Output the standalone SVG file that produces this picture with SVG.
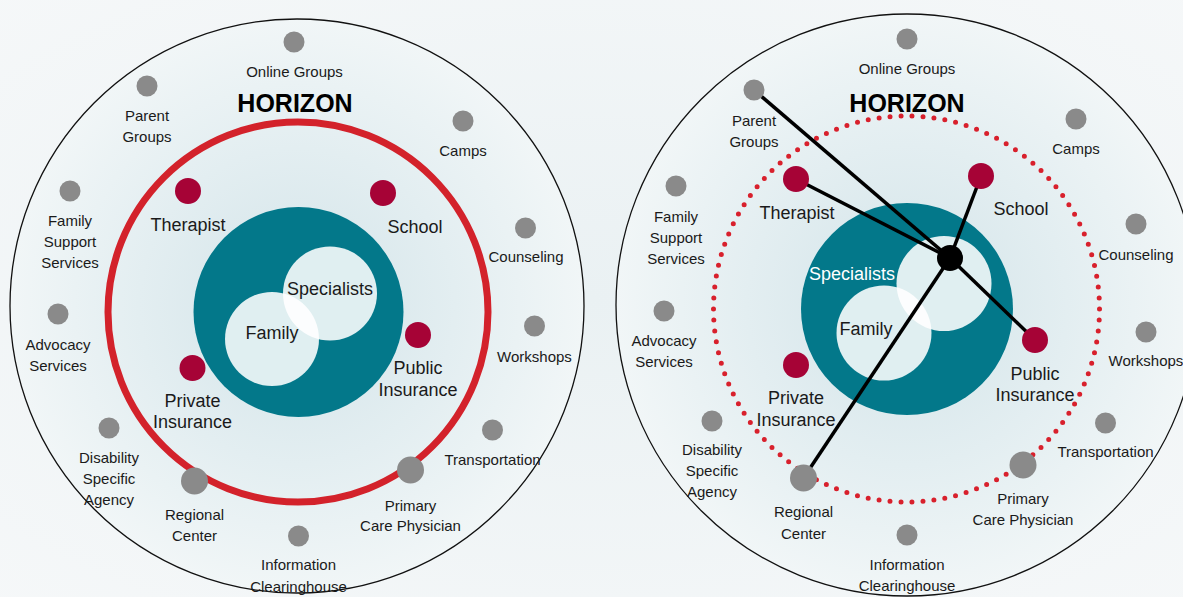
<svg xmlns="http://www.w3.org/2000/svg" width="1183" height="597" viewBox="0 0 1183 597">
<defs>
<radialGradient id="bgGrad" cx="0.5" cy="0.5" r="0.5">
<stop offset="0" stop-color="#d3e4e9"/>
<stop offset="0.55" stop-color="#e3eef1"/>
<stop offset="1" stop-color="#f1f6f7"/>
</radialGradient>
<radialGradient id="pageGrad" cx="0.5" cy="0.5" r="0.75">
<stop offset="0" stop-color="#eaf1f3"/>
<stop offset="1" stop-color="#f6f8f9"/>
</radialGradient>
</defs>
<style>
.outer{fill:url(#bgGrad);stroke:#111;stroke-width:1.3}
.teal{fill:#03788a}
.white{fill:#ffffff;fill-opacity:0.88}
.gray{fill:#8a8a8a}
.red{fill:#a60336}
.hub{fill:#000}
.lbl{font-family:"Liberation Sans",Arial,sans-serif;font-size:15px;fill:#1a1a1a;text-anchor:middle}
.big{font-family:"Liberation Sans",Arial,sans-serif;font-size:18px;fill:#1a1a1a;text-anchor:middle}
.bigw{font-family:"Liberation Sans",Arial,sans-serif;font-size:18px;fill:#ffffff;text-anchor:middle}
.title{font-family:"Liberation Sans",Arial,sans-serif;font-size:25px;font-weight:bold;fill:#000;text-anchor:middle}
.ring{fill:none;stroke:#d3222b;stroke-width:7}
.dotring{fill:none;stroke:#d8202c;stroke-width:5;stroke-linecap:round;stroke-dasharray:0 11.02}
.conn{stroke:#000;stroke-width:3.5;fill:none}
</style>
<rect width="1183" height="597" fill="url(#pageGrad)"/>

<!-- LEFT DIAGRAM -->
<g id="left-diagram">
<circle class="outer" cx="297" cy="306" r="287"/>
<text class="title" x="295" y="112">HORIZON</text>
<circle class="ring" cx="298" cy="312" r="190"/>
<g id="L-core">
<circle class="teal" cx="298.5" cy="312" r="105"/>
<circle class="white" cx="330" cy="293.5" r="47"/>
<circle class="white" cx="272" cy="339" r="47"/>
<text class="big" x="330" y="295">Specialists</text>
<text class="big" x="272" y="339">Family</text>
</g>
<g id="L-therapist"><circle class="red" cx="188" cy="191" r="13"/><text class="big" x="188" y="231">Therapist</text></g>
<g id="L-school"><circle class="red" cx="383" cy="193" r="13"/><text class="big" x="415" y="233">School</text></g>
<g id="L-public"><circle class="red" cx="418" cy="335" r="13"/><text class="big" x="418" y="374">Public</text><text class="big" x="418" y="396">Insurance</text></g>
<g id="L-private"><circle class="red" cx="192.5" cy="368" r="13"/><text class="big" x="192.5" y="407">Private</text><text class="big" x="192.5" y="428">Insurance</text></g>
<g id="L-online"><circle class="gray" cx="294" cy="42" r="10.5"/><text class="lbl" x="294.5" y="77">Online Groups</text></g>
<g id="L-parent"><circle class="gray" cx="147" cy="86" r="10.5"/><text class="lbl" x="147" y="121">Parent</text><text class="lbl" x="147" y="142">Groups</text></g>
<g id="L-camps"><circle class="gray" cx="463" cy="121" r="10.5"/><text class="lbl" x="463" y="156">Camps</text></g>
<g id="L-family-support"><circle class="gray" cx="70" cy="191" r="10.5"/><text class="lbl" x="70" y="226">Family</text><text class="lbl" x="70" y="247">Support</text><text class="lbl" x="70" y="268">Services</text></g>
<g id="L-counseling"><circle class="gray" cx="525.5" cy="228" r="10.5"/><text class="lbl" x="526" y="262">Counseling</text></g>
<g id="L-advocacy"><circle class="gray" cx="58" cy="314" r="10.5"/><text class="lbl" x="58" y="350">Advocacy</text><text class="lbl" x="58" y="371">Services</text></g>
<g id="L-workshops"><circle class="gray" cx="534.5" cy="326" r="10.5"/><text class="lbl" x="534.5" y="362">Workshops</text></g>
<g id="L-disability"><circle class="gray" cx="109" cy="428" r="10.5"/><text class="lbl" x="109" y="463">Disability</text><text class="lbl" x="109" y="484">Specific</text><text class="lbl" x="109" y="505">Agency</text></g>
<g id="L-transportation"><circle class="gray" cx="492.5" cy="430" r="10.5"/><text class="lbl" x="492.5" y="465">Transportation</text></g>
<g id="L-regional"><circle class="gray" cx="194.5" cy="481" r="13.5"/><text class="lbl" x="194.5" y="520">Regional</text><text class="lbl" x="194.5" y="541">Center</text></g>
<g id="L-primary"><circle class="gray" cx="410.5" cy="470" r="13.5"/><text class="lbl" x="410.5" y="511">Primary</text><text class="lbl" x="410.5" y="531">Care Physician</text></g>
<g id="L-info"><circle class="gray" cx="298.5" cy="536" r="10.5"/><text class="lbl" x="298.5" y="570">Information</text><text class="lbl" x="298.5" y="592">Clearinghouse</text></g>
</g>

<!-- RIGHT DIAGRAM -->
<g id="right-diagram">
<circle class="outer" cx="907" cy="305" r="291"/>
<text class="title" x="907" y="112">HORIZON</text>
<circle class="dotring" cx="906.5" cy="309" r="193"/>
<g id="R-core">
<circle class="teal" cx="907" cy="309" r="106"/>
<circle class="white" cx="944" cy="283.5" r="47.5"/>
<circle class="white" cx="884" cy="333" r="47.5"/>
<text class="bigw" x="852" y="280">Specialists</text>
<text class="big" x="866" y="335">Family</text>
</g>
<g id="connectors">
<line class="conn" x1="950" y1="258" x2="754" y2="90"/>
<line class="conn" x1="950" y1="258" x2="796" y2="179"/>
<line class="conn" x1="950" y1="258" x2="981" y2="176"/>
<line class="conn" x1="950" y1="258" x2="1035" y2="340"/>
<line class="conn" x1="950" y1="258" x2="803.5" y2="478"/>
</g>
<g id="R-hub"><circle class="hub" cx="950" cy="258" r="13"/></g>
<g id="R-therapist"><circle class="red" cx="796" cy="179" r="13"/><text class="big" x="797" y="219">Therapist</text></g>
<g id="R-school"><circle class="red" cx="981" cy="176" r="13"/><text class="big" x="1021" y="215">School</text></g>
<g id="R-public"><circle class="red" cx="1035" cy="340" r="13"/><text class="big" x="1035" y="380">Public</text><text class="big" x="1035" y="401">Insurance</text></g>
<g id="R-private"><circle class="red" cx="796" cy="365" r="13"/><text class="big" x="796" y="404">Private</text><text class="big" x="796" y="426">Insurance</text></g>
<g id="R-online"><circle class="gray" cx="907" cy="39" r="10.5"/><text class="lbl" x="907" y="74">Online Groups</text></g>
<g id="R-parent"><circle class="gray" cx="754" cy="90" r="10.5"/><text class="lbl" x="754" y="126">Parent</text><text class="lbl" x="754" y="147">Groups</text></g>
<g id="R-camps"><circle class="gray" cx="1076" cy="119" r="10.5"/><text class="lbl" x="1076" y="154">Camps</text></g>
<g id="R-family-support"><circle class="gray" cx="676" cy="186" r="10.5"/><text class="lbl" x="676" y="222">Family</text><text class="lbl" x="676" y="243">Support</text><text class="lbl" x="676" y="264">Services</text></g>
<g id="R-counseling"><circle class="gray" cx="1136" cy="224" r="10.5"/><text class="lbl" x="1136" y="260">Counseling</text></g>
<g id="R-advocacy"><circle class="gray" cx="664" cy="311" r="10.5"/><text class="lbl" x="664" y="346">Advocacy</text><text class="lbl" x="664" y="367">Services</text></g>
<g id="R-workshops"><circle class="gray" cx="1146" cy="332" r="10.5"/><text class="lbl" x="1146" y="366">Workshops</text></g>
<g id="R-disability"><circle class="gray" cx="712" cy="421" r="10.5"/><text class="lbl" x="712" y="455">Disability</text><text class="lbl" x="712" y="476">Specific</text><text class="lbl" x="712" y="497">Agency</text></g>
<g id="R-transportation"><circle class="gray" cx="1105.5" cy="423" r="10.5"/><text class="lbl" x="1105.5" y="457">Transportation</text></g>
<g id="R-regional"><circle class="gray" cx="803.5" cy="478" r="13.5"/><text class="lbl" x="803.5" y="517">Regional</text><text class="lbl" x="803.5" y="539">Center</text></g>
<g id="R-primary"><circle class="gray" cx="1023" cy="465" r="13.5"/><text class="lbl" x="1023" y="504">Primary</text><text class="lbl" x="1023" y="525">Care Physician</text></g>
<g id="R-info"><circle class="gray" cx="907" cy="535" r="10.5"/><text class="lbl" x="907" y="570">Information</text><text class="lbl" x="907" y="591">Clearinghouse</text></g>
</g>
</svg>
